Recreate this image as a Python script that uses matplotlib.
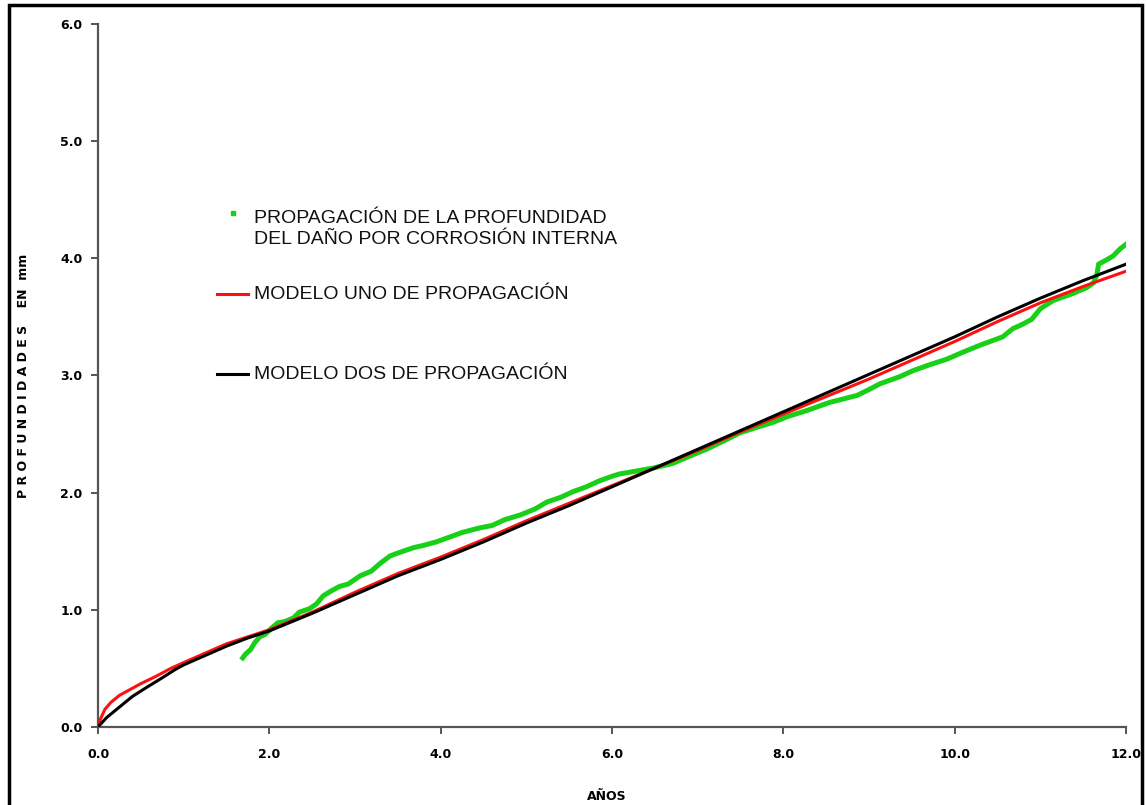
import matplotlib
matplotlib.use("Agg")
import matplotlib.pyplot as plt
from matplotlib.lines import Line2D
from matplotlib.patches import Rectangle


# =============================
# DATA
# =============================
# Measured propagation of internal corrosion depth (years, mm)
green_x = [1.69, 1.72, 1.78, 1.83, 1.89, 1.95, 2.02, 2.10, 2.18, 2.28,
           2.35, 2.47, 2.55, 2.63, 2.72, 2.82, 2.92, 3.06, 3.19, 3.30,
           3.41, 3.52, 3.68, 3.80, 3.95, 4.10, 4.25, 4.46, 4.60, 4.75,
           4.93, 5.10, 5.24, 5.40, 5.55, 5.70, 5.85, 6.00, 6.09, 6.25,
           6.48, 6.71, 6.90, 7.10, 7.30, 7.49, 7.70, 7.88, 8.05, 8.27,
           8.54, 8.70, 8.86, 9.00, 9.13, 9.36, 9.51, 9.70, 9.91, 10.10,
           10.30, 10.45, 10.56, 10.68, 10.80, 10.90, 11.00, 11.15, 11.38, 11.54,
           11.62, 11.66, 11.68, 11.78, 11.85, 11.93, 12.00]
green_y = [0.59, 0.62, 0.66, 0.72, 0.77, 0.79, 0.84, 0.89, 0.90, 0.93,
           0.98, 1.01, 1.05, 1.12, 1.16, 1.20, 1.22, 1.29, 1.33, 1.40,
           1.46, 1.49, 1.53, 1.55, 1.58, 1.62, 1.66, 1.70, 1.72, 1.77,
           1.81, 1.86, 1.92, 1.96, 2.01, 2.05, 2.10, 2.14, 2.16, 2.18,
           2.21, 2.25, 2.31, 2.37, 2.44, 2.51, 2.56, 2.60, 2.65, 2.70,
           2.77, 2.80, 2.83, 2.88, 2.93, 2.99, 3.04, 3.09, 3.14, 3.20,
           3.26, 3.30, 3.33, 3.40, 3.44, 3.48, 3.57, 3.64, 3.70, 3.75,
           3.79, 3.86, 3.95, 3.99, 4.02, 4.08, 4.12]

# Model one
red_x = [0.0, 0.03, 0.08, 0.15, 0.25, 0.35, 0.5, 0.67, 0.85, 1.0,
         1.25, 1.5, 1.75, 2.0, 2.5, 3.0, 3.5, 4.0, 4.5, 5.0,
         5.5, 6.0, 6.5, 7.0, 7.5, 8.0, 8.5, 9.0, 9.5, 10.0,
         10.5, 11.0, 11.5, 12.0]
red_y = [0.00, 0.07, 0.15, 0.21, 0.27, 0.31, 0.37, 0.43, 0.50, 0.55,
         0.63, 0.71, 0.77, 0.83, 0.98, 1.15, 1.31, 1.45, 1.60, 1.76,
         1.91, 2.06, 2.21, 2.36, 2.52, 2.67, 2.82, 2.97, 3.13, 3.29,
         3.46, 3.62, 3.76, 3.89]

# Model two
black_x = [0.0, 0.1, 0.25, 0.4, 0.55, 0.75, 0.9, 1.0, 1.25, 1.5,
           1.75, 2.0, 2.5, 3.0, 3.5, 4.0, 4.5, 5.0, 5.5, 6.0,
           6.5, 7.0, 7.5, 8.0, 8.5, 9.0, 9.5, 10.0, 10.5, 11.0,
           11.5, 12.0]
black_y = [0.00, 0.08, 0.17, 0.26, 0.33, 0.42, 0.49, 0.53, 0.61, 0.69,
           0.76, 0.82, 0.97, 1.13, 1.29, 1.43, 1.58, 1.74, 1.89, 2.05,
           2.21, 2.37, 2.53, 2.69, 2.85, 3.01, 3.17, 3.33, 3.50, 3.66,
           3.81, 3.95]

x_ticks = [0, 2, 4, 6, 8, 10, 12]
y_ticks = [0, 1, 2, 3, 4, 5, 6]

labels = [
    "PROPAGACIÓN DE LA PROFUNDIDAD\nDEL DAÑO POR CORROSIÓN INTERNA",
    "MODELO UNO DE PROPAGACIÓN",
    "MODELO DOS DE PROPAGACIÓN",
]

GREEN = "#19d019"
RED = "#ff1010"
BLACK = "#000000"
SPINE = "#555555"

# =============================
# FIGURE
# =============================
W, H = 1146, 805
fig = plt.figure(figsize=(W / 100, H / 100), dpi=100)
ax = fig.add_axes([98 / W, 1 - 727 / H, 1028 / W, 703 / H])

ax.plot(green_x, green_y, color=GREEN, lw=3.6, solid_joinstyle="miter", zorder=2)
ax.plot(red_x, red_y, color=RED, lw=2.2, zorder=3)
ax.plot(black_x, black_y, color=BLACK, lw=2.2, zorder=4)

# =============================
# AXES
# =============================
ax.set_xlim(0, 12)
ax.set_ylim(0, 6)
ax.set_xticks(x_ticks)
ax.set_yticks(y_ticks)
ax.set_xticklabels([f"{v:.1f}" for v in x_ticks])
ax.set_yticklabels([f"{v:.1f}" for v in y_ticks])

for side in ("top", "right"):
    ax.spines[side].set_visible(False)
for side in ("left", "bottom"):
    ax.spines[side].set_color(SPINE)
    ax.spines[side].set_linewidth(1.6)

ax.tick_params(axis="both", direction="out", length=5, width=1.4, color=SPINE,
               labelsize=9)
for lbl in ax.get_xticklabels() + ax.get_yticklabels():
    lbl.set_fontweight("bold")
ax.tick_params(axis="y", pad=6)
ax.tick_params(axis="x", pad=10)

ax.set_xlabel("AÑOS", fontsize=9, fontweight="bold")
ax.xaxis.set_label_coords(0.495, -0.09)
ax.set_ylabel("P R O F U N D I D A D E S    EN  mm", fontsize=9, fontweight="bold")
ax.yaxis.set_label_coords(-0.066, 0.5)

# =============================
# LEGEND (drawn by hand)
# =============================
leg_font = dict(family="Liberation Sans", fontsize=14, color="#111111")
fig.text(254 / W, 1 - 229 / H, labels[0], va="center", ha="left",
         linespacing=1.35, **leg_font)
fig.text(254 / W, 1 - 294 / H, labels[1], va="center", ha="left", **leg_font)
fig.text(254 / W, 1 - 374 / H, labels[2], va="center", ha="left", **leg_font)

fig.add_artist(Line2D([233 / W], [1 - 213 / H], marker="s", markersize=3,
                      color=GREEN, linestyle="none"))
fig.add_artist(Line2D([217 / W, 248 / W], [1 - 294 / H] * 2, color=RED, lw=2.2))
fig.add_artist(Line2D([217 / W, 248 / W], [1 - 374 / H] * 2, color=BLACK, lw=2.2))

# Outer frame, open at the bottom edge of the image
fig.add_artist(Rectangle((8.5 / W, -0.05), (1142 - 8.5) / W, 1.05 - 5 / H,
                         transform=fig.transFigure, fill=False,
                         edgecolor="black", lw=2.5))

fig.savefig("out.png", dpi=100)
plt.close(fig)
